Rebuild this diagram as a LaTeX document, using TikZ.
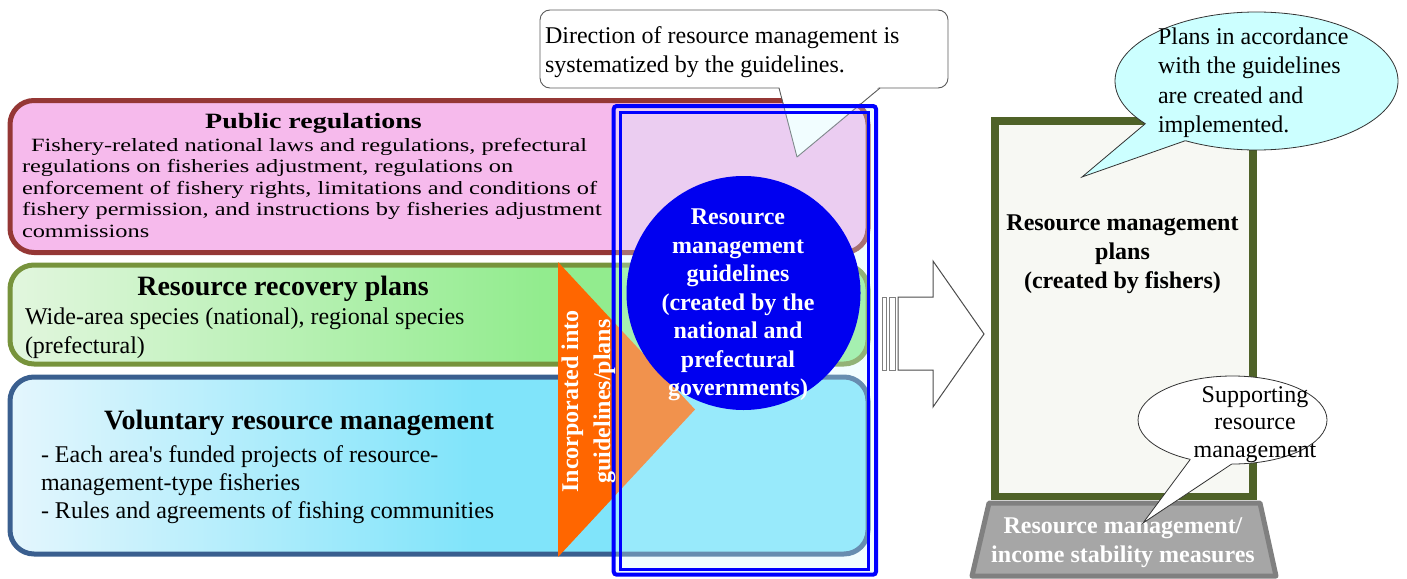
\documentclass[tikz,border=0pt]{standalone}
\usepackage{graphicx}
\usepackage{fontspec}
\setmainfont{Liberation Serif}
\usetikzlibrary{shapes.geometric,calc}
\definecolor{pinkfill}{RGB}{246,186,236}
\definecolor{pinkedge}{RGB}{149,55,53}
\definecolor{greenedge}{RGB}{119,147,60}
\definecolor{greenL}{RGB}{226,246,222}
\definecolor{greenR}{RGB}{146,236,142}
\definecolor{blueedge}{RGB}{58,95,143}
\definecolor{blueL}{RGB}{228,246,253}
\definecolor{blueR}{RGB}{128,228,250}
\definecolor{orangefill}{RGB}{255,102,0}
\definecolor{guideblue}{RGB}{0,0,240}
\definecolor{framecol}{RGB}{0,0,255}
\definecolor{overlaycol}{RGB}{210,250,255}
\definecolor{oliveedge}{RGB}{79,98,40}
\definecolor{plansfill}{RGB}{247,248,243}
\definecolor{pedfill}{RGB}{166,166,166}
\definecolor{pededge}{RGB}{128,128,128}
\definecolor{cyanfill}{RGB}{204,255,255}
\definecolor{calloutedge}{RGB}{90,90,90}
\pgfdeclarehorizontalshading{greensh}{100bp}{color(0bp)=(greenL); color(25bp)=(greenL); color(56bp)=(greenR); color(100bp)=(greenR)}
\pgfdeclarehorizontalshading{bluesh}{100bp}{color(0bp)=(blueL); color(25bp)=(blueL); color(52bp)=(blueR); color(100bp)=(blueR)}
\tikzset{
  every node/.style={inner sep=0pt, outer sep=0pt},
  lbox/.style={rounded corners=24pt, line width=5pt, minimum width=858pt},
  txt/.style={font=\fontsize{24}{28.8}\selectfont},
  txtb/.style={font=\fontsize{24}{28.8}\selectfont\bfseries},
  head/.style={font=\fontsize{28}{33}\selectfont\bfseries, anchor=base},
  pline/.style={draw=calloutedge, line width=0.9pt, line join=round},
}
\newcommand{\squeezed}[1]{\scalebox{1.015}[0.78]{#1}}
\begin{document}
\begin{tikzpicture}[x=1pt,y=-1pt]
\useasboundingbox (0,0) rectangle (1407,578);
% left boxes
\node[lbox, draw=pinkedge, fill=pinkfill, minimum height=152pt] (pub) at (439,176.5) {};
\node[lbox, draw=greenedge, shade, shading=greensh, minimum height=99pt] (rec) at (439,314.5) {};
\node[lbox, draw=blueedge, shade, shading=bluesh, minimum height=177pt] (vol) at (439,465.5) {};
% orange triangle
\coordinate (triT) at (558,262);
\coordinate (triA) at (695,409.5);
\coordinate (triB) at (558,557);
\fill[orangefill] (triT) -- (triA) -- (triB) -- cycle;
% texts of left boxes
\node[head] (pubH) at (313.5,128) {\scalebox{1}[0.78]{Public regulations}};
\node[txt, anchor=base west] (pubL1) at (31,151) {\squeezed{Fishery-related national laws and regulations, prefectural}};
\node[txt, anchor=base west] (pubL2) at (22,172.6) {\squeezed{regulations on fisheries adjustment, regulations on}};
\node[txt, anchor=base west] (pubL3) at (22,194.2) {\squeezed{enforcement of fishery rights, limitations and conditions of}};
\node[txt, anchor=base west] (pubL4) at (22,215.8) {\squeezed{fishery permission, and instructions by fisheries adjustment}};
\node[txt, anchor=base west] (pubL5) at (22,237.4) {\squeezed{commissions}};
\node[head] (recH) at (283,295) {Resource recovery plans};
\node[txt, anchor=base west] (recL1) at (25,324) {Wide-area species (national), regional species};
\node[txt, anchor=base west] (recL2) at (25,353) {(prefectural)};
\node[head] (volH) at (299,429) {Voluntary resource management};
\node[txt, anchor=base west] (volL1) at (41,462) {- Each area\textquotesingle s funded projects of resource-};
\node[txt, anchor=base west] (volL2) at (41,490) {management-type fisheries};
\node[txt, anchor=base west] (volL3) at (41,518) {- Rules and agreements of fishing communities};
% top callout
\node[draw=calloutedge, line width=0.9pt, fill=white, rounded corners=10pt, minimum width=408pt, minimum height=78pt] (dir) at (744,49) {};
\coordinate (dirP1) at (779,88);
\coordinate (dirTip) at (797,157);
\coordinate (dirP2) at (880,88);
\fill[white] ($(dirP1)+(0,-2)$) -- (dirTip) -- ($(dirP2)+(0,-2)$) -- cycle;
\draw[pline] (dirP1) -- (dirTip) -- (dirP2);
\node[txt, anchor=base west] (dirL1) at (545,44) {Direction of resource management is};
\node[txt, anchor=base west] (dirL2) at (545,73) {systematized by the guidelines.};
% overlay and frame
\fill[overlaycol, opacity=0.3] (615.5,108) rectangle (874,573);
\node[draw=framecol, line width=4pt, rounded corners=3pt, minimum width=262.3pt, minimum height=468.7pt] (frame) at (744.85,340.35) {};
\node[draw=framecol, line width=3pt, minimum width=248.3pt, minimum height=457pt] (frameIn) at (744.15,340.5) {};
% guidelines circle
\node[circle, fill=guideblue, minimum size=234pt] (guide) at (743.5,293) {};
\node[txtb, text=white, anchor=base] (g1) at (738,224.5) {Resource};
\node[txtb, text=white, anchor=base] (g2) at (738,253) {management};
\node[txtb, text=white, anchor=base] (g3) at (738,281.5) {guidelines};
\node[txtb, text=white, anchor=base] (g4) at (738,310) {(created by the};
\node[txtb, text=white, anchor=base] (g5) at (738,338.5) {national and};
\node[txtb, text=white, anchor=base] (g6) at (738,367) {prefectural};
\node[txtb, text=white, anchor=base] (g7) at (738,395.5) {governments)};
% orange text
\node[txtb, text=white, rotate=90, anchor=base] (inc1) at (578,401.5) {Incorporated into};
\node[txtb, text=white, rotate=90, anchor=base] (inc2) at (610,401.5) {guidelines/plans};
% block arrow
\draw[gray, line width=1pt, fill=white] (882,297) rectangle (886,370);
\draw[gray, line width=1pt, fill=white] (889,297) rectangle (895,370);
\draw[black!70, line width=1pt, fill=white, line join=miter] (898,297) -- (933,297) -- (933,261) -- (984,334) -- (933,407) -- (933,370) -- (898,370) -- cycle;
% plans box
\node[draw=oliveedge, line width=7.5pt, fill=plansfill, minimum width=258pt, minimum height=375.5pt] (plans) at (1124,308.75) {};
\node[txtb, anchor=base] (pl1) at (1122.5,230) {Resource management};
\node[txtb, anchor=base] (pl2) at (1122.5,259) {plans};
\node[txtb, anchor=base] (pl3) at (1122.5,288) {(created by fishers)};
% pedestal
\coordinate (pedA) at (989,503);
\coordinate (pedB) at (1260,503);
\coordinate (pedC) at (1276,576);
\coordinate (pedD) at (972,576);
\path[draw=pededge, line width=5pt, fill=pedfill, line join=round] (pedA) -- (pedB) -- (pedC) -- (pedD) -- cycle;
\node[txtb, text=white, anchor=base] (pd1) at (1123,533) {Resource management/};
\node[txtb, text=white, anchor=base] (pd2) at (1123,562) {income stability measures};
% supporting callout
\node[ellipse, draw=black!80, line width=0.8pt, fill=white, minimum width=189pt, minimum height=88pt] (sup) at (1232.5,420) {};
\coordinate (supTip) at (1143,523);
\fill[white] (sup.223) -- (supTip) -- (sup.269) -- (sup.center) -- cycle;
\draw[black!80, line width=0.8pt, line join=miter] (sup.223) -- (supTip) -- (sup.269);
\node[txt, anchor=base] (s1) at (1255,402) {Supporting};
\node[txt, anchor=base] (s2) at (1255,429.5) {resource};
\node[txt, anchor=base] (s3) at (1255,457) {management};
% plans-in-accordance callout
\node[ellipse, draw=black!80, line width=0.8pt, fill=cyanfill, minimum width=283pt, minimum height=138pt] (acc) at (1256.5,81) {};
\coordinate (accTip) at (1082,177);
\fill[cyanfill] (acc.201) -- (accTip) -- (acc.220) -- (acc.center) -- cycle;
\draw[black!80, line width=0.8pt, line join=miter] (acc.201) -- (accTip) -- (acc.220);
\node[txt, anchor=base west] (a1) at (1158,45) {Plans in accordance};
\node[txt, anchor=base west] (a2) at (1158,74) {with the guidelines};
\node[txt, anchor=base west] (a3) at (1158,103) {are created and};
\node[txt, anchor=base west] (a4) at (1158,132) {implemented.};
\end{tikzpicture}
\end{document}
